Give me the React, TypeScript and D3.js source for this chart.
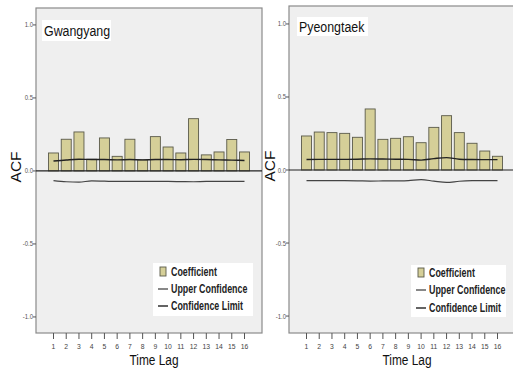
import React from "react";
import * as d3 from "d3";

const lags = [1, 2, 3, 4, 5, 6, 7, 8, 9, 10, 11, 12, 13, 14, 15, 16];
const yTicks = [1.0, 0.5, 0.0, -0.5, -1.0];
const yTickLabels = ["1.0", "0.5", "0.0", "-0.5", "-1.0"];

const gwangyangCoef = [0.123, 0.217, 0.267, 0.08, 0.226, 0.1, 0.217, 0.075, 0.235, 0.164, 0.123, 0.358, 0.11, 0.13, 0.215, 0.13];
const gwangyangUpper = [0.068, 0.075, 0.08, 0.078, 0.078, 0.076, 0.078, 0.076, 0.078, 0.078, 0.077, 0.079, 0.078, 0.076, 0.074, 0.072];
const gwangyangLower = [-0.066, -0.074, -0.077, -0.068, -0.07, -0.072, -0.071, -0.072, -0.072, -0.072, -0.073, -0.074, -0.072, -0.072, -0.072, -0.072];

const pyeongtaekCoef = [0.233, 0.26, 0.256, 0.251, 0.224, 0.418, 0.21, 0.217, 0.228, 0.187, 0.292, 0.372, 0.256, 0.183, 0.13, 0.094];
const pyeongtaekUpper = [0.072, 0.073, 0.073, 0.073, 0.074, 0.076, 0.075, 0.074, 0.073, 0.068, 0.078, 0.085, 0.074, 0.072, 0.071, 0.071];
const pyeongtaekLower = [-0.072, -0.073, -0.073, -0.073, -0.074, -0.076, -0.075, -0.074, -0.072, -0.066, -0.076, -0.085, -0.077, -0.073, -0.072, -0.072];

const legendLabels = ["Coefficient", "Upper Confidence", "Confidence Limit"];

const FONT = "'Liberation Sans', Arial, sans-serif";

// horizontally condensed text anchored at (x, y)
function Narrow(props: { x: number; y: number; sx: number; anchor?: string; size: number; weight?: string; fill?: string; children: React.ReactNode }) {
  return (
    <text
      transform={`translate(${props.x},${props.y}) scale(${props.sx},1)`}
      textAnchor={props.anchor || "start"}
      fontFamily={FONT}
      fontSize={props.size}
      fontWeight={props.weight || "normal"}
      fill={props.fill || "#111"}
    >
      {props.children}
    </text>
  );
}

type PanelProps = {
  title: string;
  coef: number[];
  upper: number[];
  lower: number[];
  x0: number;
  top: number;
  yDomain: [number, number];
  titleBox: { x: number; y: number; w: number; h: number; base: number };
  legend: { x: number; y: number; w: number; h: number; rows: number[] };
  acfX: number;
};

function Panel(p: PanelProps) {
  const x1 = p.x0 + 226;
  const bottom = 333;
  const x = d3.scaleLinear().domain([1, 16]).range([p.x0 + 17.5, x1 - 17.5]);
  const y = d3.scaleLinear().domain(p.yDomain).range([bottom, p.top]);
  const bw = 10;
  const line = d3
    .line<number>()
    .x((_, i) => x(lags[i]))
    .y((d) => y(d))
    .curve(d3.curveMonotoneX);
  const clipId = "clip" + p.title;
  return (
    <g>
      <defs>
        <clipPath id={clipId}>
          <rect x={p.x0} y={p.top} width={x1 - p.x0} height={bottom - p.top} />
        </clipPath>
      </defs>
      <rect x={p.x0} y={p.top} width={x1 - p.x0} height={bottom - p.top} fill="#efefef" stroke="#8a8a8a" strokeWidth={1.2} />
      <g clipPath={`url(#${clipId})`}>
        <rect x={p.titleBox.x} y={p.titleBox.y} width={p.titleBox.w} height={p.titleBox.h} fill="#fff" />
        {p.coef.map((v, i) => (
          <rect
            key={i}
            x={x(lags[i]) - bw / 2}
            y={y(Math.max(0, v))}
            width={bw}
            height={Math.abs(y(v) - y(0))}
            fill="#d5cf98"
            stroke="#5a5a4a"
            strokeWidth={0.9}
          />
        ))}
        <line x1={p.x0 - 3} x2={x1 + 10} y1={y(0)} y2={y(0)} stroke="#222" strokeWidth={1.2} />
        <path d={line(p.upper) || ""} fill="none" stroke="#222" strokeWidth={1.4} />
        <path d={line(p.lower) || ""} fill="none" stroke="#444" strokeWidth={1.2} />
        <rect x={p.legend.x} y={p.legend.y} width={p.legend.w} height={p.legend.h} fill="#fff" />
        {legendLabels.map((lab, i) => {
          const ry = p.legend.rows[i];
          return (
            <g key={lab}>
              {i === 0 ? (
                <rect x={p.legend.x + 7} y={ry - 5} width={6} height={9} fill="#d5cf98" stroke="#5a5a4a" strokeWidth={0.9} />
              ) : (
                <line x1={p.legend.x + 5} x2={p.legend.x + 15} y1={ry} y2={ry} stroke={i === 1 ? "#555" : "#222"} strokeWidth={1.4} />
              )}
            </g>
          );
        })}
      </g>
      <Narrow x={p.titleBox.x + 2} y={p.titleBox.base} sx={0.8} size={15.5}>
        {p.title}
      </Narrow>
      {legendLabels.map((lab, i) => (
        <Narrow key={lab} x={p.legend.x + 18} y={p.legend.rows[i] + 4} sx={0.74} size={12} weight="bold" fill="#222">
          {lab}
        </Narrow>
      ))}
      {yTicks.map((t, i) => (
        <g key={t}>
          <line x1={p.x0 - 3} x2={p.x0} y1={y(t)} y2={y(t)} stroke="#555" strokeWidth={1} />
          <Narrow x={p.x0 - 3} y={y(t) + 2.5} sx={0.85} anchor="end" size={7} fill="#555">
            {yTickLabels[i]}
          </Narrow>
        </g>
      ))}
      {lags.map((l) => (
        <g key={l}>
          <line x1={x(l)} x2={x(l)} y1={bottom} y2={bottom + 6} stroke="#555" strokeWidth={1} />
          <Narrow x={x(l)} y={bottom + 15.5} sx={0.85} anchor="middle" size={8} fill="#444">
            {l}
          </Narrow>
        </g>
      ))}
      <text
        transform={`translate(${p.acfX},${y(0) - 4}) rotate(-90)`}
        textAnchor="middle"
        fontFamily={FONT}
        fontSize={15.5}
        fill="#111"
      >
        ACF
      </text>
      <Narrow x={(p.x0 + x1) / 2 + 5} y={364.5} sx={0.82} anchor="middle" size={14.5}>
        Time Lag
      </Narrow>
    </g>
  );
}

export default function App() {
  return (
    <svg width={513} height={368} style={{ position: "absolute", left: 0, top: 0, background: "#fff" }}>
      <rect x={0} y={0} width={513} height={368} fill="#fff" />
      <Panel
        title="Gwangyang"
        coef={gwangyangCoef}
        upper={gwangyangUpper}
        lower={gwangyangLower}
        x0={36}
        top={8}
        yDomain={[-1.11, 1.116]}
        titleBox={{ x: 42, y: 20, w: 69, h: 21, base: 36 }}
        legend={{ x: 153, y: 263, w: 100, h: 53, rows: [272, 289, 306] }}
        acfX={21}
      />
      <Panel
        title="Pyeongtaek"
        coef={pyeongtaekCoef}
        upper={pyeongtaekUpper}
        lower={pyeongtaekLower}
        x0={289}
        top={6}
        yDomain={[-1.116, 1.123]}
        titleBox={{ x: 297, y: 17, w: 71, h: 19, base: 32 }}
        legend={{ x: 411, y: 265, w: 95, h: 52, rows: [273, 290, 308] }}
        acfX={275}
      />
    </svg>
  );
}
